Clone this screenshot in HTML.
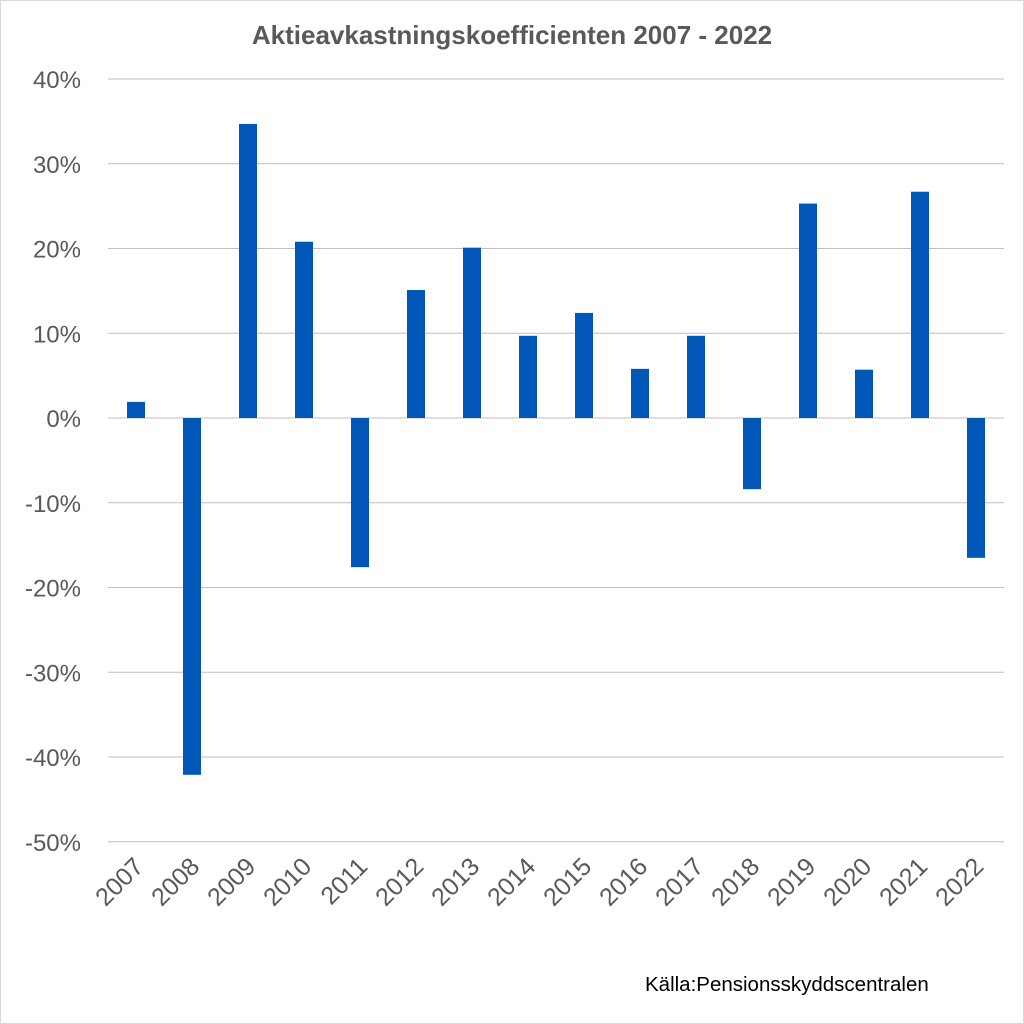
<!DOCTYPE html>
<html><head><meta charset="utf-8"><style>
body{margin:0;background:#fff}
svg{display:block;font-family:"Liberation Sans",sans-serif}
</style></head><body>
<svg id="chart" width="1024" height="1024">
<rect x="0.5" y="0.5" width="1023" height="1023" fill="#fff" stroke="#d9d9d9"/>
<text x="512" y="44" text-anchor="middle" font-size="26" font-weight="bold" fill="#595959">Aktieavkastningskoefficienten 2007 - 2022</text>
<g id="grid"></g>
<g id="yticks"></g>
<g id="bars"></g>
<g id="xticks"></g>
<text x="645" y="991" font-size="20.5" fill="#000">Källa:Pensionsskyddscentralen</text>
</svg>
<script>
const categories=["2007","2008","2009","2010","2011","2012","2013","2014","2015","2016","2017","2018","2019","2020","2021","2022"];
const values=[1.9,-42.1,34.7,20.8,-17.6,15.1,20.1,9.7,12.4,5.8,9.7,-8.4,25.3,5.7,26.7,-16.5];
const yTicks=[40,30,20,10,0,-10,-20,-30,-40,-50];
const yTickLabels=["40%","30%","20%","10%","0%","-10%","-20%","-30%","-40%","-50%"];
const NS="http://www.w3.org/2000/svg";
const x0=108,x1=1004,yTop=79,yBot=841.75,vMax=40,vMin=-50;
const y=v=>yTop+(vMax-v)/(vMax-vMin)*(yBot-yTop);
const band=(x1-x0)/categories.length;
const xc=i=>x0+band*(i+0.5);
function mk(t,a){const e=document.createElementNS(NS,t);for(const k in a)e.setAttribute(k,a[k]);return e;}
const grid=document.getElementById('grid'),yt=document.getElementById('yticks'),bars=document.getElementById('bars'),xt=document.getElementById('xticks');
yTicks.forEach((v,i)=>{
 const l=mk('line',{x1:x0,x2:x1,y1:y(v),y2:y(v),stroke:'#bfbfbf','stroke-width':1});
 
 
 grid.appendChild(l);
 const t=mk('text',{x:81,y:y(v)+9,'text-anchor':'end','font-size':24,fill:'#595959'});
 t.textContent=yTickLabels[i];
 
 
 yt.appendChild(t);
});
categories.forEach((c,i)=>{
 const v=values[i],bw=18;
 const r=mk('rect',{x:xc(i)-bw/2,y:Math.min(y(v),y(0)),width:bw,height:Math.abs(y(v)-y(0)),fill:'#0057b8'});
 
 
 bars.appendChild(r);
 const ax=xc(i)+9,ay=868;
 const t=mk('text',{x:ax,y:ay,'text-anchor':'end','font-size':25,fill:'#595959',transform:`rotate(-45 ${ax} ${ay})`});
 t.textContent=c;
 
 
 xt.appendChild(t);
});
</script>
</body></html>
